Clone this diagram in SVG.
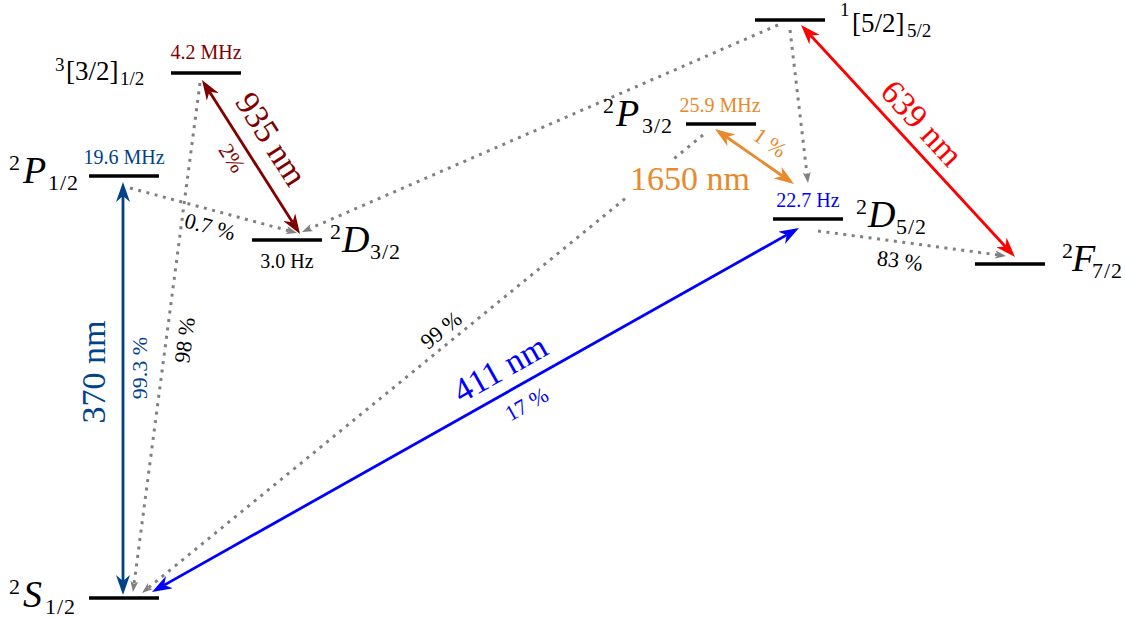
<svg xmlns="http://www.w3.org/2000/svg" width="1125" height="621" viewBox="0 0 1125 621" font-family="'Liberation Serif', 'DejaVu Serif', 'Noto Serif', serif">
<style>
.lvl{stroke:#000;stroke-width:3.5;fill:none}
.dot{stroke:#808080;stroke-width:3;stroke-dasharray:3 5.5;fill:none}
.arr{stroke-width:2.8;fill:none}
.big{font-size:34px}
.term{font-size:38px;font-style:italic}
.ss{font-size:22px}
.sb{font-size:22px;letter-spacing:1px}
.br{font-size:27px}
.bs{font-size:19px}
.fq{font-size:20px}
.pc{font-size:22px}
.navy{fill:#004387}.maroon{fill:#800000}.orange{fill:#e8892b}.blue{fill:#0000ff}.red{fill:#ff0000}
</style>
<defs>
<marker id="ah-navy" viewBox="0 -7 20 14" markerWidth="20" markerHeight="14" refX="6" refY="0" orient="auto-start-reverse" markerUnits="userSpaceOnUse"><path d="M0,-7 L20,0 L0,7 L6,0 Z" fill="#004387"/></marker>
<marker id="ah-maroon" viewBox="0 -7 20 14" markerWidth="20" markerHeight="14" refX="6" refY="0" orient="auto-start-reverse" markerUnits="userSpaceOnUse"><path d="M0,-7 L20,0 L0,7 L6,0 Z" fill="#800000"/></marker>
<marker id="ah-orange" viewBox="0 -7 20 14" markerWidth="20" markerHeight="14" refX="6" refY="0" orient="auto-start-reverse" markerUnits="userSpaceOnUse"><path d="M0,-7 L20,0 L0,7 L6,0 Z" fill="#e8892b"/></marker>
<marker id="ah-blue" viewBox="0 -7 20 14" markerWidth="20" markerHeight="14" refX="6" refY="0" orient="auto-start-reverse" markerUnits="userSpaceOnUse"><path d="M0,-7 L20,0 L0,7 L6,0 Z" fill="#0000ff"/></marker>
<marker id="ah-red" viewBox="0 -7 20 14" markerWidth="20" markerHeight="14" refX="6" refY="0" orient="auto-start-reverse" markerUnits="userSpaceOnUse"><path d="M0,-7 L20,0 L0,7 L6,0 Z" fill="#ff0000"/></marker>
<marker id="ah-gray" viewBox="0 -4 11 8" markerWidth="11" markerHeight="8" refX="3" refY="0" orient="auto" markerUnits="userSpaceOnUse"><path d="M0,-4 L11,0 L0,4 L3,0 Z" fill="#808080"/></marker>
</defs>

<g id="connectors">
  <path class="dot" d="M200,83 L134,584.1" marker-end="url(#ah-gray)"/>
  <path class="dot" d="M130,188 L289.3,230.9" marker-end="url(#ah-gray)"/>
  <path class="dot" d="M778,25 L309.3,228.8" marker-end="url(#ah-gray)"/>
  <path class="dot" d="M790,30 L807.1,175.1" marker-end="url(#ah-gray)"/>
  <path class="dot" d="M703,135 L673,159.5"/>
  <path class="dot" d="M625,198.7 L148.2,587.9" marker-end="url(#ah-gray)"/>
  <path class="dot" d="M818,231 L998.1,254.9" marker-end="url(#ah-gray)"/>

  <path class="arr" stroke="#004387" d="M123,196 L123,581" marker-start="url(#ah-navy)" marker-end="url(#ah-navy)"/>
  <path class="arr" stroke="#800000" stroke-width="3" d="M209.5,91.8 L292.5,222.2" marker-start="url(#ah-maroon)" marker-end="url(#ah-maroon)"/>
  <path class="arr" stroke="#e8892b" stroke-width="3" d="M726.5,137 L782.5,176" marker-start="url(#ah-orange)" marker-end="url(#ah-orange)"/>
  <path class="arr" stroke="#ff0000" d="M810.5,35.3 L1005.5,246.7" marker-start="url(#ah-red)" marker-end="url(#ah-red)"/>
  <path class="arr" stroke="#0000ff" stroke-width="3" d="M164.2,585.1 L786.8,234.9" marker-start="url(#ah-blue)" marker-end="url(#ah-blue)"/>

  <text class="big navy" text-anchor="middle" transform="translate(93.5,372) rotate(-90)" y="11.5">370 nm</text>
  <text class="pc navy" text-anchor="middle" transform="translate(139,368) rotate(-90)" y="7.5">99.3 %</text>
  <text class="pc" text-anchor="middle" transform="translate(184.5,340) rotate(-82.5)" y="7.5">98 %</text>
  <text class="pc" text-anchor="middle" transform="translate(210,226.5) rotate(15)" y="7.5">0.7 %</text>
  <text class="big maroon" text-anchor="middle" transform="translate(271.5,139) rotate(57.5)" y="11.5">935 nm</text>
  <text class="pc maroon" text-anchor="middle" transform="translate(232,158) rotate(57.5)" y="7.5">2%</text>
  <text class="pc" text-anchor="middle" transform="translate(441,330) rotate(-39.2)" y="7.5">99 %</text>
  <text class="big blue" text-anchor="middle" transform="translate(500,368.5) rotate(-29.4)" y="11.5">411 nm</text>
  <text class="pc blue" text-anchor="middle" transform="translate(526.5,404) rotate(-29.4)" y="7.5">17 %</text>
  <text class="big orange" text-anchor="middle" x="690" y="190">1650 nm</text>
  <text class="pc orange" text-anchor="middle" transform="translate(770,142.5) rotate(34.8)" y="7.5">1 %</text>
  <text class="big red" text-anchor="middle" transform="translate(922,123) rotate(47.3)" y="11.5">639 nm</text>
  <text class="pc" text-anchor="middle" transform="translate(900,260.5) rotate(7.6)" y="7.5">83 %</text>
</g>

<g id="S12">
  <line class="lvl" x1="89" y1="598" x2="159" y2="598"/>
  <text><tspan class="ss" x="9" y="594">2</tspan><tspan class="term" x="23" y="607">S</tspan><tspan class="sb" x="45" y="614">1/2</tspan></text>
</g>
<g id="P12">
  <line class="lvl" x1="89" y1="176" x2="159" y2="176"/>
  <text><tspan class="ss" x="9" y="170">2</tspan><tspan class="term" x="23" y="183">P</tspan><tspan class="sb" x="48" y="190">1/2</tspan></text>
  <text class="fq navy" text-anchor="middle" x="124" y="164">19.6 MHz</text>
</g>
<g id="T32">
  <line class="lvl" x1="171" y1="73" x2="241" y2="73"/>
  <text><tspan class="bs" x="55" y="71">3</tspan><tspan class="br" x="66" y="80">[3/2]</tspan><tspan class="bs" x="120" y="85">1/2</tspan></text>
  <text class="fq maroon" text-anchor="middle" x="206" y="59">4.2 MHz</text>
</g>
<g id="D32">
  <line class="lvl" x1="252" y1="240" x2="322" y2="240"/>
  <text><tspan class="ss" x="330" y="239">2</tspan><tspan class="term" x="342" y="252">D</tspan><tspan class="sb" x="370" y="259">3/2</tspan></text>
  <text class="fq" text-anchor="middle" x="287" y="268">3.0 Hz</text>
</g>
<g id="P32">
  <line class="lvl" x1="686" y1="124" x2="756" y2="124"/>
  <text><tspan class="ss" x="603" y="113">2</tspan><tspan class="term" x="616" y="126">P</tspan><tspan class="sb" x="642" y="133">3/2</tspan></text>
  <text class="fq orange" text-anchor="middle" x="720" y="112">25.9 MHz</text>
</g>
<g id="T52">
  <line class="lvl" x1="755" y1="20" x2="825" y2="20"/>
  <text><tspan class="bs" x="840" y="16">1</tspan><tspan class="br" x="852" y="32">[5/2]</tspan><tspan class="bs" x="907" y="37">5/2</tspan></text>
</g>
<g id="D52">
  <line class="lvl" x1="773" y1="219" x2="843" y2="219"/>
  <text><tspan class="ss" x="856" y="214">2</tspan><tspan class="term" x="868" y="227">D</tspan><tspan class="sb" x="896" y="234">5/2</tspan></text>
  <text class="fq blue" text-anchor="middle" x="808" y="207">22.7 Hz</text>
</g>
<g id="F72">
  <line class="lvl" x1="975" y1="264" x2="1045" y2="264"/>
  <text><tspan class="ss" x="1062" y="258">2</tspan><tspan class="term" x="1072" y="271">F</tspan><tspan class="sb" x="1092" y="278">7/2</tspan></text>
</g>
</svg>
